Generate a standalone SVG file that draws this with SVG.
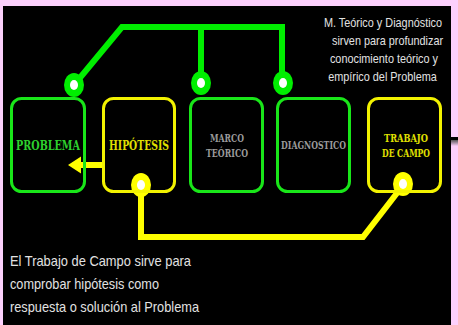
<svg xmlns="http://www.w3.org/2000/svg" width="458" height="325" viewBox="0 0 458 325">
<defs>
<style>
.box{fill:none;stroke-width:3}
.g{stroke:#19e619}
.y{stroke:#f2f200}
.lbl{font-family:"DejaVu Serif","Liberation Serif",serif;text-anchor:middle;font-weight:bold}
.note{font-family:"Liberation Sans",Arial,sans-serif;fill:#e2e2e2}
.dotg{fill:#00ee00}
.doty{fill:#ffff00}
.hole{fill:#ffffff}
</style>
<linearGradient id="fade" x1="0" y1="0" x2="0" y2="1">
<stop offset="0" stop-color="#555"/>
<stop offset="1" stop-color="#fcd0fc"/>
</linearGradient>
</defs>
<rect x="0" y="0" width="458" height="325" fill="#fcd0fc"/>
<rect x="3" y="6" width="448" height="319" fill="#000"/>
<rect x="451" y="137" width="7" height="3" fill="#000"/>
<rect x="451" y="140" width="7" height="6" fill="url(#fade)"/>
<g id="connectors" fill="none" stroke-linejoin="miter">
<path d="M74,85 L122,27 H282 V83 M201,27 V83" stroke="#00ee00" stroke-width="6"/>
<path d="M404,184 L363,237 H141 V185" stroke="#ffff00" stroke-width="6"/>
<path d="M80,165 H102" stroke="#ffff00" stroke-width="6"/>
<polygon points="68,165 81,156.5 81,173.5" fill="#ffff00"/>
<ellipse class="dotg" cx="74" cy="85" rx="10" ry="12"/>
<ellipse class="hole" cx="74" cy="85" rx="4" ry="5"/>
<ellipse class="dotg" cx="201" cy="83" rx="10" ry="12"/>
<ellipse class="hole" cx="201" cy="83" rx="4" ry="5"/>
<ellipse class="dotg" cx="283" cy="83" rx="10" ry="12"/>
<ellipse class="hole" cx="283" cy="83" rx="4" ry="5"/>
<ellipse class="doty" cx="141" cy="185" rx="10" ry="12"/>
<ellipse class="hole" cx="141" cy="185" rx="4" ry="5"/>
<ellipse class="doty" cx="403" cy="184" rx="10" ry="12"/>
<ellipse class="hole" cx="403" cy="184" rx="4" ry="5"/>
</g>
<g id="problema">
<rect class="box g" x="11.5" y="98.5" width="73" height="93" rx="10"/>
<text class="lbl" x="48" y="150" font-size="13" fill="#2ed12e" textLength="64" lengthAdjust="spacingAndGlyphs">PROBLEMA</text>
</g>
<g id="hipotesis">
<rect class="box y" x="103.5" y="98.5" width="71" height="93" rx="10"/>
<text class="lbl" x="139" y="150" font-size="13" fill="#e0e000" textLength="60" lengthAdjust="spacingAndGlyphs">HIPÓTESIS</text>
</g>
<g id="marco">
<rect class="box g" x="190.5" y="98.5" width="72" height="93" rx="10"/>
<text class="lbl" x="227" y="142" font-size="11" fill="#9a9a9a" textLength="34" lengthAdjust="spacingAndGlyphs">MARCO</text>
<text class="lbl" x="227" y="157" font-size="11" fill="#9a9a9a" textLength="42" lengthAdjust="spacingAndGlyphs">TEÓRICO</text>
</g>
<g id="diagnostico">
<rect class="box g" x="277.5" y="98.5" width="72" height="93" rx="10"/>
<text class="lbl" x="313.5" y="149" font-size="11" fill="#9a9a9a" textLength="65" lengthAdjust="spacingAndGlyphs">DIAGNOSTICO</text>
</g>
<g id="trabajo">
<rect class="box y" x="368.5" y="98.5" width="72" height="93" rx="10"/>
<text class="lbl" x="406" y="142" font-size="11" fill="#e0e000" textLength="44" lengthAdjust="spacingAndGlyphs">TRABAJO</text>
<text class="lbl" x="406" y="157" font-size="11" fill="#e0e000" textLength="48" lengthAdjust="spacingAndGlyphs">DE CAMPO</text>
</g>
<g id="note-top" class="note" font-size="12.5" text-anchor="middle" transform="translate(383 0) scale(0.87 1)">
<text x="0" y="27">M. Teórico y Diagnóstico</text>
<text x="5.2" y="45">sirven para profundizar</text>
<text x="1.1" y="63">conocimiento teórico y</text>
<text x="-0.6" y="81">empírico del Problema</text>
</g>
<g id="note-bottom" class="note" font-size="14.5">
<text x="10" y="266" textLength="181" lengthAdjust="spacingAndGlyphs">El Trabajo de Campo sirve para</text>
<text x="10" y="289" textLength="149" lengthAdjust="spacingAndGlyphs">comprobar hipótesis como</text>
<text x="10" y="312" textLength="189" lengthAdjust="spacingAndGlyphs">respuesta o solución al Problema</text>
</g>
</svg>
